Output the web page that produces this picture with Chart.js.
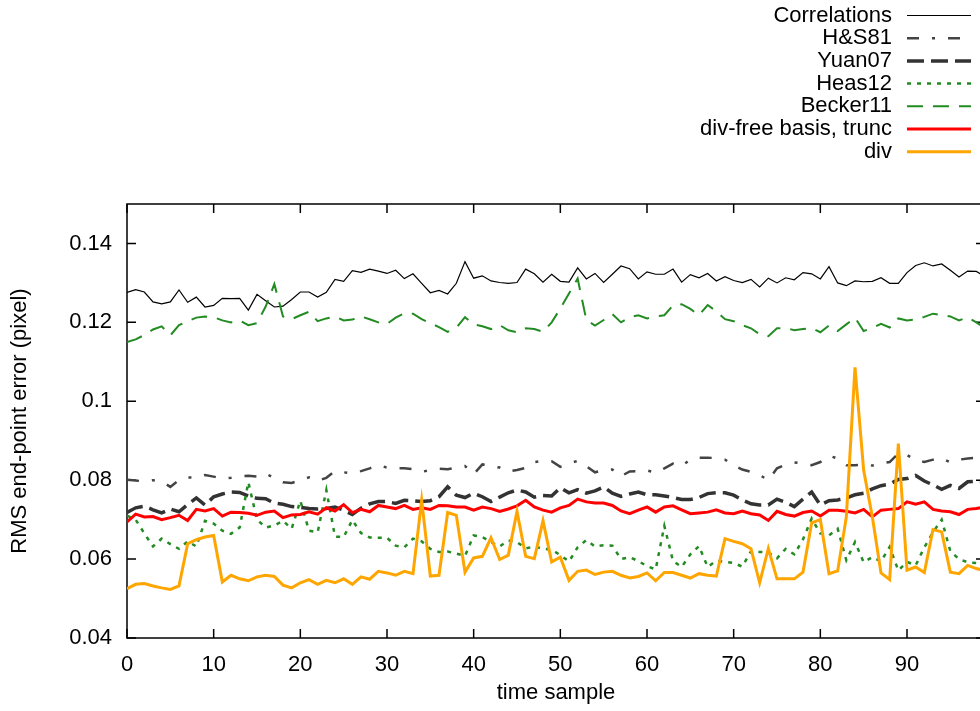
<!DOCTYPE html>
<html>
<head>
<meta charset="utf-8">
<script src="https://cdn.jsdelivr.net/npm/chart.js@4.4.1/dist/chart.umd.min.js"></script>
<style>
  html, body { margin: 0; padding: 0; background: #fff; overflow: hidden; }
  #wrap { position: absolute; left: 0; top: 0; width: 1000px; height: 711px; }
</style>
</head>
<body>
<div id="wrap"><canvas id="errChart" width="1000" height="711"></canvas></div>
<script>
// time sample index
const samples = [...Array(100).keys()];

const xTicks = [0, 10, 20, 30, 40, 50, 60, 70, 80, 90];
const yTicks = [0.04, 0.06, 0.08, 0.1, 0.12, 0.14];

const correlations = [
    0.1276, 0.1283, 0.1277, 0.1252, 0.1247, 0.1252, 0.1282, 0.1251, 0.1264, 0.1239,
    0.1243, 0.1261, 0.1260, 0.1261, 0.1231, 0.1271, 0.1255, 0.1239, 0.1241, 0.1258,
    0.1277, 0.1277, 0.1264, 0.1276, 0.1309, 0.1304, 0.1331, 0.1327, 0.1335, 0.1330,
    0.1324, 0.1332, 0.1311, 0.1323, 0.1299, 0.1275, 0.1281, 0.1272, 0.1299, 0.1354,
    0.1312, 0.1318, 0.1305, 0.1301, 0.1299, 0.1301, 0.1335, 0.1323, 0.1302, 0.1322,
    0.1304, 0.1302, 0.1338, 0.1310, 0.1324, 0.1301, 0.1322, 0.1343, 0.1336, 0.1310,
    0.1328, 0.1322, 0.1322, 0.1335, 0.1302, 0.1321, 0.1313, 0.1324, 0.1305, 0.1316,
    0.1306, 0.1301, 0.1309, 0.1290, 0.1312, 0.1300, 0.1313, 0.1308, 0.1326, 0.1323,
    0.1310, 0.1341, 0.1300, 0.1293, 0.1305, 0.1303, 0.1304, 0.1313, 0.1299, 0.1299,
    0.1326, 0.1344, 0.1351, 0.1343, 0.1348, 0.1332, 0.1315, 0.1330, 0.1329, 0.1316,
];

const hs81 = [
    0.0801, 0.0799, 0.0797, 0.0800, 0.0797, 0.0783, 0.0800, 0.0807, 0.0806, 0.0813,
    0.0809, 0.0804, 0.0806, 0.0810, 0.0811, 0.0809, 0.0817, 0.0805, 0.0795, 0.0793,
    0.0800, 0.0807, 0.0798, 0.0806, 0.0823, 0.0820, 0.0817, 0.0823, 0.0830, 0.0838,
    0.0832, 0.0830, 0.0830, 0.0828, 0.0821, 0.0826, 0.0829, 0.0828, 0.0832, 0.0836,
    0.0815, 0.0840, 0.0836, 0.0832, 0.0822, 0.0826, 0.0831, 0.0846, 0.0849, 0.0848,
    0.0834, 0.0842, 0.0849, 0.0835, 0.0820, 0.0826, 0.0827, 0.0810, 0.0822, 0.0823,
    0.0825, 0.0819, 0.0830, 0.0842, 0.0835, 0.0853, 0.0857, 0.0857, 0.0856, 0.0852,
    0.0838, 0.0827, 0.0821, 0.0813, 0.0800, 0.0830, 0.0840, 0.0845, 0.0842, 0.0838,
    0.0846, 0.0862, 0.0855, 0.0838, 0.0838, 0.0840, 0.0837, 0.0843, 0.0846, 0.0868,
    0.0864, 0.0851, 0.0846, 0.0852, 0.0856, 0.0845, 0.0852, 0.0855, 0.0857, 0.0857,
];

const yuan07 = [
    0.0718, 0.0730, 0.0734, 0.0725, 0.0717, 0.0727, 0.0720, 0.0738, 0.0755, 0.0737,
    0.0758, 0.0765, 0.0770, 0.0769, 0.0760, 0.0754, 0.0753, 0.0742, 0.0739, 0.0733,
    0.0731, 0.0728, 0.0727, 0.0728, 0.0732, 0.0724, 0.0713, 0.0729, 0.0740, 0.0746,
    0.0746, 0.0741, 0.0749, 0.0748, 0.0746, 0.0748, 0.0758, 0.0783, 0.0762, 0.0756,
    0.0767, 0.0758, 0.0746, 0.0757, 0.0768, 0.0775, 0.0770, 0.0757, 0.0761, 0.0760,
    0.0781, 0.0768, 0.0776, 0.0767, 0.0773, 0.0783, 0.0767, 0.0759, 0.0765, 0.0770,
    0.0763, 0.0763, 0.0760, 0.0756, 0.0751, 0.0751, 0.0756, 0.0766, 0.0768, 0.0768,
    0.0762, 0.0750, 0.0740, 0.0737, 0.0737, 0.0752, 0.0744, 0.0733, 0.0752, 0.0770,
    0.0737, 0.0748, 0.0750, 0.0755, 0.0763, 0.0767, 0.0778, 0.0786, 0.0790, 0.0802,
    0.0804, 0.0812, 0.0798, 0.0788, 0.0777, 0.0787, 0.0779, 0.0796, 0.0797, 0.0796,
];

const heas12 = [
    0.0710, 0.0700, 0.0665, 0.0632, 0.0652, 0.0638, 0.0626, 0.0645, 0.0632, 0.0697,
    0.0690, 0.0672, 0.0664, 0.0680, 0.0795, 0.0700, 0.0680, 0.0685, 0.0697, 0.0677,
    0.0748, 0.0672, 0.0668, 0.0775, 0.0657, 0.0656, 0.0699, 0.0666, 0.0655, 0.0654,
    0.0654, 0.0634, 0.0630, 0.0652, 0.0645, 0.0626, 0.0618, 0.0619, 0.0614, 0.0608,
    0.0660, 0.0656, 0.0643, 0.0632, 0.0647, 0.0643, 0.0627, 0.0632, 0.0626, 0.0624,
    0.0610, 0.0594, 0.0630, 0.0648, 0.0632, 0.0635, 0.0634, 0.0600, 0.0605, 0.0595,
    0.0582, 0.0574, 0.0684, 0.0595, 0.0580, 0.0612, 0.0633, 0.0580, 0.0596, 0.0593,
    0.0590, 0.0581, 0.0620, 0.0618, 0.0617, 0.0602, 0.0626, 0.0612, 0.0650, 0.0703,
    0.0665, 0.0660, 0.0677, 0.0597, 0.0643, 0.0592, 0.0605, 0.0594, 0.0631, 0.0571,
    0.0593, 0.0584, 0.0630, 0.0668, 0.0700, 0.0620, 0.0600, 0.0592, 0.0590, 0.0588,
];

const becker11 = [
    0.1150, 0.1157, 0.1168, 0.1182, 0.1190, 0.1167, 0.1193, 0.1203, 0.1212, 0.1215,
    0.1213, 0.1205, 0.1200, 0.1205, 0.1193, 0.1198, 0.1240, 0.1297, 0.1215, 0.1208,
    0.1218, 0.1227, 0.1203, 0.1210, 0.1215, 0.1205, 0.1207, 0.1215, 0.1208, 0.1200,
    0.1196, 0.1212, 0.1223, 0.1222, 0.1208, 0.1198, 0.1188, 0.1176, 0.1186, 0.1213,
    0.1195, 0.1190, 0.1183, 0.1193, 0.1180, 0.1175, 0.1185, 0.1183, 0.1176, 0.1200,
    0.1235, 0.1273, 0.1311, 0.1206, 0.1192, 0.1206, 0.1221, 0.1200, 0.1213, 0.1218,
    0.1210, 0.1215, 0.1218, 0.1243, 0.1246, 0.1234, 0.1218, 0.1244, 0.1228, 0.1208,
    0.1203, 0.1193, 0.1185, 0.1170, 0.1165, 0.1185, 0.1186, 0.1180, 0.1183, 0.1186,
    0.1175, 0.1192, 0.1178, 0.1195, 0.1212, 0.1178, 0.1186, 0.1196, 0.1187, 0.1210,
    0.1205, 0.1207, 0.1214, 0.1222, 0.1218, 0.1215, 0.1205, 0.1213, 0.1200, 0.1185,
];

const divFreeTrunc = [
    0.0694, 0.0714, 0.0707, 0.0708, 0.0700, 0.0705, 0.0711, 0.0698, 0.0726, 0.0722,
    0.0728, 0.0709, 0.0719, 0.0718, 0.0716, 0.0711, 0.0719, 0.0722, 0.0705, 0.0712,
    0.0713, 0.0720, 0.0714, 0.0730, 0.0722, 0.0738, 0.0718, 0.0726, 0.0720, 0.0736,
    0.0732, 0.0728, 0.0736, 0.0726, 0.0730, 0.0726, 0.0736, 0.0735, 0.0732, 0.0732,
    0.0724, 0.0732, 0.0728, 0.0721, 0.0727, 0.0735, 0.0749, 0.0732, 0.0724, 0.0719,
    0.0730, 0.0736, 0.0752, 0.0745, 0.0742, 0.0742, 0.0736, 0.0722, 0.0715, 0.0724,
    0.0732, 0.0719, 0.0732, 0.0735, 0.0725, 0.0715, 0.0717, 0.0719, 0.0725, 0.0717,
    0.0715, 0.0722, 0.0715, 0.0712, 0.0698, 0.0721, 0.0713, 0.0709, 0.0718, 0.0722,
    0.0709, 0.0724, 0.0724, 0.0721, 0.0717, 0.0726, 0.0707, 0.0724, 0.0726, 0.0728,
    0.0745, 0.0739, 0.0745, 0.0726, 0.0722, 0.0720, 0.0713, 0.0726, 0.0728, 0.0732,
];

const div = [
    0.0525, 0.0536, 0.0538, 0.0532, 0.0527, 0.0523, 0.0532, 0.0639, 0.0649, 0.0656,
    0.0660, 0.0542, 0.0559, 0.0550, 0.0545, 0.0555, 0.0559, 0.0556, 0.0534, 0.0527,
    0.0540, 0.0548, 0.0536, 0.0546, 0.0540, 0.0550, 0.0536, 0.0555, 0.0549, 0.0569,
    0.0565, 0.0559, 0.0569, 0.0563, 0.0749, 0.0557, 0.0559, 0.0718, 0.0711, 0.0567,
    0.0603, 0.0607, 0.0654, 0.0599, 0.0610, 0.0721, 0.0607, 0.0601, 0.0697, 0.0593,
    0.0605, 0.0546, 0.0569, 0.0572, 0.0561, 0.0567, 0.0569, 0.0559, 0.0552, 0.0556,
    0.0565, 0.0545, 0.0566, 0.0566, 0.0559, 0.0552, 0.0563, 0.0559, 0.0557, 0.0652,
    0.0645, 0.0639, 0.0626, 0.0540, 0.0627, 0.0550, 0.0550, 0.0550, 0.0567, 0.0692,
    0.0700, 0.0563, 0.0570, 0.0707, 0.1086, 0.0825, 0.0707, 0.0565, 0.0548, 0.0893,
    0.0572, 0.0580, 0.0566, 0.0675, 0.0669, 0.0567, 0.0563, 0.0584, 0.0576, 0.0570,
];

const FONT = { family: '"Liberation Sans", Arial, sans-serif', size: 22 };

const toPoints = (values) => values.map((v, i) => ({ x: samples[i], y: v }));

const series = [
    { label: 'Correlations', data: correlations, color: '#000000', width: 1.2, dash: [] },
    { label: 'H&S81', data: hs81, color: '#444444', width: 2.5, dash: [12, 13, 3, 13] },
    { label: 'Yuan07', data: yuan07, color: '#333333', width: 3.5, dash: [17, 7] },
    { label: 'Heas12', data: heas12, color: '#228b22', width: 2.5, dash: [4, 6] },
    { label: 'Becker11', data: becker11, color: '#228b22', width: 2, dash: [16, 10] },
    { label: 'div-free basis, trunc', data: divFreeTrunc, color: '#ff0000', width: 3, dash: [] },
    { label: 'div', data: div, color: '#ffa500', width: 3, dash: [] },
];

// gnuplot style frame with inward ticks on all four sides
const framePlugin = {
    id: 'frame',
    beforeDatasetsDraw(chart) {
        const { ctx, chartArea: a, scales: { x, y } } = chart;
        const tl = 9;
        ctx.save();
        ctx.strokeStyle = '#000';
        ctx.lineWidth = 1.5;
        ctx.strokeRect(a.left, a.top, a.right - a.left, a.bottom - a.top);
        ctx.beginPath();
        xTicks.forEach((t) => {
            const px = x.getPixelForValue(t);
            ctx.moveTo(px, a.bottom);
            ctx.lineTo(px, a.bottom - tl);
            ctx.moveTo(px, a.top);
            ctx.lineTo(px, a.top + tl);
        });
        yTicks.forEach((t) => {
            const py = y.getPixelForValue(t);
            ctx.moveTo(a.left, py);
            ctx.lineTo(a.left + tl, py);
            ctx.moveTo(a.right, py);
            ctx.lineTo(a.right - tl, py);
        });
        ctx.stroke();
        ctx.restore();
    },
};

// key in the top right corner: text right aligned, line sample after it
const keyPlugin = {
    id: 'key',
    afterDraw(chart) {
        const { ctx } = chart;
        ctx.save();
        ctx.font = `${FONT.size}px ${FONT.family}`;
        ctx.textAlign = 'right';
        ctx.textBaseline = 'middle';
        chart.data.datasets.forEach((ds, i) => {
            const yy = 15.5 + i * 22.7;
            ctx.fillStyle = '#000';
            ctx.fillText(ds.label, 892, yy);
            ctx.beginPath();
            ctx.strokeStyle = ds.borderColor;
            ctx.lineWidth = ds.borderWidth;
            ctx.setLineDash(ds.borderDash);
            ctx.moveTo(907, yy);
            ctx.lineTo(971, yy);
            ctx.stroke();
        });
        ctx.restore();
    },
};

new Chart(document.getElementById('errChart'), {
    type: 'line',
    data: {
        datasets: series.map((s, i) => ({
            label: s.label,
            data: toPoints(s.data),
            borderColor: s.color,
            borderWidth: s.width,
            borderDash: s.dash,
            pointRadius: 0,
            fill: false,
            tension: 0,
            order: series.length - i,
        })),
    },
    options: {
        responsive: false,
        animation: false,
        devicePixelRatio: 1,
        layout: { padding: { top: 204, right: 15, left: 0, bottom: 0 } },
        plugins: { legend: { display: false }, tooltip: { enabled: false } },
        scales: {
            x: {
                type: 'linear',
                min: 0,
                max: 99,
                grid: { display: false, drawTicks: false },
                border: { display: false },
                ticks: { color: '#000', font: FONT, padding: 14, autoSkip: false, maxRotation: 0 },
                afterBuildTicks: (scale) => { scale.ticks = xTicks.map((v) => ({ value: v })); },
                afterFit: (scale) => { scale.height = 73; },
                title: { display: true, text: 'time sample', color: '#000', font: FONT, padding: { top: 0, bottom: 5 } },
            },
            y: {
                type: 'linear',
                min: 0.04,
                max: 0.15,
                grid: { display: false, drawTicks: false },
                border: { display: false },
                ticks: { color: '#000', font: FONT, padding: 15, callback: (v) => String(+v.toFixed(2)) },
                afterBuildTicks: (scale) => { scale.ticks = yTicks.map((v) => ({ value: v })); },
                afterFit: (scale) => { scale.width = 127; },
                title: { display: true, text: 'RMS end-point error (pixel)', color: '#000', font: FONT, padding: { top: 7, bottom: 0 } },
            },
        },
    },
    plugins: [framePlugin, keyPlugin],
});
</script>
</body>
</html>
